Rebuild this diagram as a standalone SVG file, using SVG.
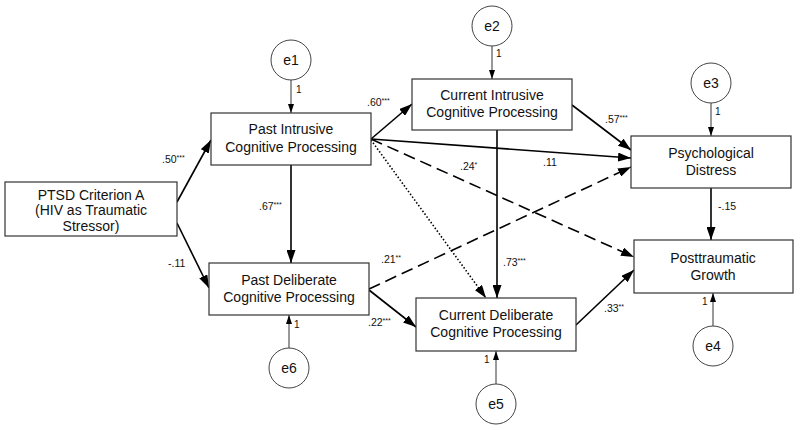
<svg xmlns="http://www.w3.org/2000/svg" width="800" height="430" viewBox="0 0 800 430">
<defs>
<marker id="ah" viewBox="0 0 13 9" refX="13" refY="4.5" markerWidth="13" markerHeight="9" markerUnits="userSpaceOnUse" orient="auto"><path d="M0,0 L13,4.5 L0,9 Z" fill="#000"/></marker>
<marker id="ahs" viewBox="0 0 9 6" refX="9" refY="3" markerWidth="9" markerHeight="6" markerUnits="userSpaceOnUse" orient="auto"><path d="M0,0 L9,3 L0,6 Z" fill="#000"/></marker>
</defs>
<style>
rect.box{fill:#fff;stroke:#333;stroke-width:1.2}
circle.err{fill:#fff;stroke:#444;stroke-width:1}
text{font-family:"Liberation Sans",Arial,sans-serif;fill:#111}
.bt{font-size:14px;text-anchor:middle}
.et{font-size:14px;text-anchor:middle}
.lb{font-size:10.5px}
.st{font-size:7px}
.one{font-size:10px}
.m{stroke:#000;stroke-width:1.6;fill:none;marker-end:url(#ah)}
.e{stroke:#333;stroke-width:1;fill:none;marker-end:url(#ahs)}
.dash{stroke-dasharray:12 6}
.dot{stroke-dasharray:1.5 2}
</style>
<rect width="800" height="430" fill="#fff"/>
<g id="connectors">
<line class="m" x1="177" y1="202" x2="211" y2="140"/>
<line class="m" x1="177" y1="223" x2="209" y2="288"/>
<line class="m" x1="291" y1="165" x2="291" y2="263"/>
<line class="m" x1="371" y1="139" x2="412" y2="104"/>
<line class="m" x1="371" y1="139" x2="631" y2="158"/>
<line class="m dash" x1="371" y1="139" x2="634" y2="257"/>
<line class="m dot" x1="371" y1="140" x2="486" y2="298"/>
<line class="m" x1="572" y1="105" x2="631" y2="150"/>
<line class="m" x1="497" y1="130" x2="497" y2="298"/>
<line class="m dash" x1="369" y1="289" x2="631" y2="167"/>
<line class="m" x1="369" y1="290" x2="416" y2="327"/>
<line class="m" x1="576" y1="325" x2="634" y2="270"/>
<line class="m" x1="711" y1="188" x2="711" y2="240"/>
<line class="e" x1="291" y1="80" x2="291" y2="113"/>
<line class="e" x1="492" y1="46" x2="492" y2="79"/>
<line class="e" x1="711" y1="103" x2="711" y2="136"/>
<line class="e" x1="713" y1="326" x2="713" y2="293"/>
<line class="e" x1="289" y1="348" x2="289" y2="315"/>
<line class="e" x1="496" y1="384" x2="496" y2="351"/>
<text class="lb" x="162" y="163">.50<tspan class="st" dy="-3">***</tspan></text>
<text class="lb" x="168" y="267">-.11</text>
<text class="lb" x="259" y="210">.67<tspan class="st" dy="-3">***</tspan></text>
<text class="lb" x="367" y="106">.60<tspan class="st" dy="-3">***</tspan></text>
<text class="lb" x="460" y="170">.24<tspan class="st" dy="-3">*</tspan></text>
<text class="lb" x="543" y="166">.11</text>
<text class="lb" x="605" y="123">.57<tspan class="st" dy="-3">***</tspan></text>
<text class="lb" x="718" y="210">-.15</text>
<text class="lb" x="381" y="263">.21<tspan class="st" dy="-3">**</tspan></text>
<text class="lb" x="368" y="326">.22<tspan class="st" dy="-3">***</tspan></text>
<text class="lb" x="503" y="266">.73<tspan class="st" dy="-3">***</tspan></text>
<text class="lb" x="604" y="312">.33<tspan class="st" dy="-3">**</tspan></text>
<text class="one" x="296" y="93">1</text>
<text class="one" x="496" y="57">1</text>
<text class="one" x="715" y="115">1</text>
<text class="one" x="702" y="305">1</text>
<text class="one" x="294" y="328">1</text>
<text class="one" x="484" y="363">1</text>
</g>
<g id="ptsd"><rect class="box" x="5" y="182" width="172" height="54"/><text class="bt" x="91" y="200">PTSD Criterion A</text><text class="bt" x="91" y="215">(HIV as Traumatic</text><text class="bt" x="91" y="231">Stressor)</text></g>
<g id="past-intrusive"><rect class="box" x="211" y="113" width="160" height="52"/><text class="bt" x="291" y="134">Past Intrusive</text><text class="bt" x="291" y="152">Cognitive Processing</text></g>
<g id="current-intrusive"><rect class="box" x="412" y="79" width="160" height="51"/><text class="bt" x="492" y="100">Current Intrusive</text><text class="bt" x="492" y="117">Cognitive Processing</text></g>
<g id="psych-distress"><rect class="box" x="631" y="136" width="160" height="52"/><text class="bt" x="711" y="158">Psychological</text><text class="bt" x="711" y="175">Distress</text></g>
<g id="growth"><rect class="box" x="634" y="240" width="159" height="53"/><text class="bt" x="713" y="263">Posttraumatic</text><text class="bt" x="713" y="280">Growth</text></g>
<g id="past-deliberate"><rect class="box" x="209" y="263" width="160" height="52"/><text class="bt" x="289" y="285">Past Deliberate</text><text class="bt" x="289" y="302">Cognitive Processing</text></g>
<g id="current-deliberate"><rect class="box" x="416" y="298" width="160" height="53"/><text class="bt" x="496" y="320">Current Deliberate</text><text class="bt" x="496" y="337">Cognitive Processing</text></g>
<g id="e1"><circle class="err" cx="291" cy="60" r="20"/><text class="et" x="291" y="65">e1</text></g>
<g id="e2"><circle class="err" cx="492" cy="26" r="20"/><text class="et" x="492" y="31">e2</text></g>
<g id="e3"><circle class="err" cx="711" cy="83" r="20"/><text class="et" x="711" y="88">e3</text></g>
<g id="e4"><circle class="err" cx="713" cy="346" r="20"/><text class="et" x="713" y="351">e4</text></g>
<g id="e5"><circle class="err" cx="496" cy="404" r="20"/><text class="et" x="496" y="409">e5</text></g>
<g id="e6"><circle class="err" cx="289" cy="368" r="20"/><text class="et" x="289" y="373">e6</text></g>
</svg>
